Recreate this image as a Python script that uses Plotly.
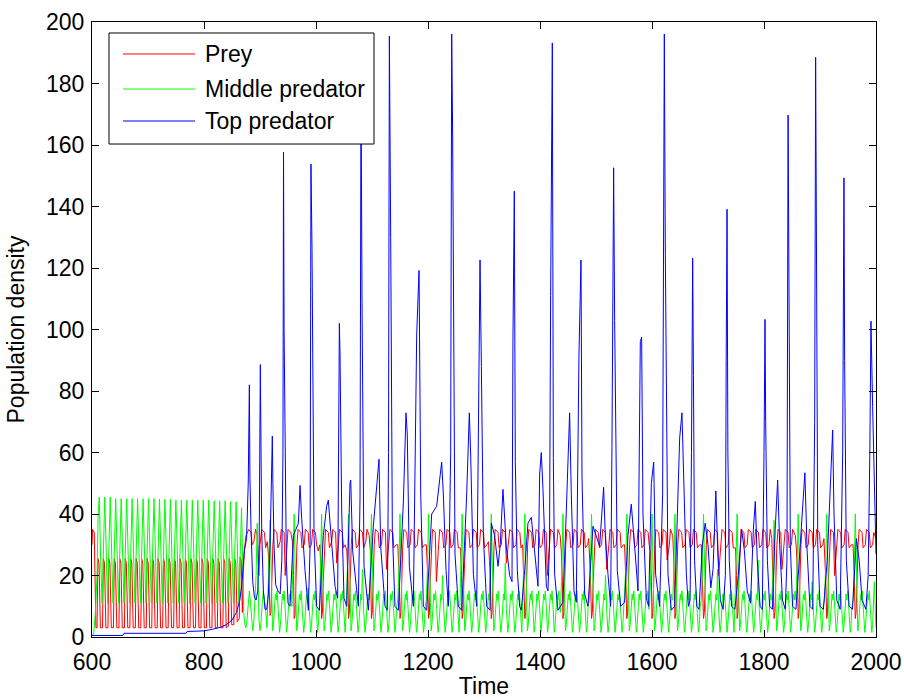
import plotly.graph_objects as go

# ---------------- data: (time, value) vertices ----------------
prey_points = [
    (600, 30), (601, 35), (604, 34), (606, 15), (607, 3),
    (609.0, 3), (610.5, 25.5), (612.5, 24), (615.0, 3),
    (618.8, 3), (620.3, 25.5), (622.3, 24), (624.8, 3),
    (628.5, 3), (630.0, 25.5), (632.0, 24), (634.5, 3),
    (638.3, 3), (639.8, 25.5), (641.8, 24), (644.3, 3),
    (648.1, 3), (649.6, 25.5), (651.6, 24), (654.1, 3),
    (657.9, 3), (659.4, 25.5), (661.4, 24), (663.9, 3),
    (667.6, 3), (669.1, 25.5), (671.1, 24), (673.6, 3),
    (677.4, 3), (678.9, 25.5), (680.9, 24), (683.4, 3),
    (687.2, 3), (688.7, 25.5), (690.7, 24), (693.2, 3),
    (696.9, 3), (698.4, 25.5), (700.4, 24), (702.9, 3),
    (706.7, 3), (708.2, 25.5), (710.2, 24), (712.7, 3),
    (716.5, 3), (718.0, 25.5), (720.0, 24), (722.5, 3),
    (726.2, 3), (727.7, 25.5), (729.7, 24), (732.2, 3),
    (736.0, 3), (737.5, 25.5), (739.5, 24), (742.0, 3),
    (745.8, 3), (747.3, 25.5), (749.3, 24), (751.8, 3),
    (755.6, 3), (757.1, 25.5), (759.1, 24), (761.6, 3),
    (765.3, 3), (766.8, 25.5), (768.8, 24), (771.3, 3),
    (775.1, 3), (776.6, 25.5), (778.6, 24), (781.1, 3),
    (784.9, 3), (786.4, 25.5), (788.4, 24), (790.9, 3),
    (794.6, 3), (796.1, 25.5), (798.1, 24), (800.6, 3),
    (804.4, 3), (805.9, 25.5), (807.9, 24), (810.4, 3),
    (814.2, 3), (815.7, 25.5), (817.7, 24), (820.2, 3),
    (823.9, 3), (825.4, 25.5), (827.4, 24), (829.9, 3),
    (833.7, 3), (835.2, 25.5), (837.2, 24), (839.7, 3),
    (843.5, 3.5), (845.0, 25.5), (847.0, 24), (849.5, 4),
    (853.3, 4), (854.8, 25.5), (856.8, 24), (859.3, 5),
    (863.0, 6), (864.5, 26), (866.5, 25), (868.5, 8),
    (870, 20), (872, 28), (875, 33), (880, 35), (884, 34), (886, 30), (889, 31), (892, 35),
    (895, 33), (897, 22), (898, 20), (900, 30), (903, 35), (908, 34), (910, 29), (913, 31),
    (915, 27), (917, 12), (918, 7), (919.5, 8), (921, 18), (923, 30), (925, 35), (930, 34),
    (932, 29), (936, 31), (938, 35), (943, 34), (945, 20), (948, 29), (950, 35), (955, 34),
    (958, 31), (960, 20), (961, 6), (962.5, 7), (964, 18), (966, 30), (968, 35), (973, 34),
    (975, 29), (979, 30), (981, 35), (986, 34), (988, 29), (992, 30), (994, 35), (999, 34),
    (1001, 30), (1004, 28), (1007, 30), (1009, 20), (1010, 6), (1011.5, 8), (1013, 18),
    (1015, 30), (1017, 35), (1022, 34), (1024, 29), (1028, 31), (1030, 35), (1035, 34),
    (1037, 24), (1040, 30), (1042, 35), (1047, 34), (1049, 29), (1052, 30), (1055, 28),
    (1057, 20), (1058, 6), (1059.5, 8), (1061, 18), (1063, 30), (1065, 35), (1070, 34),
    (1072, 29), (1076, 30), (1078, 35), (1083, 34), (1085, 29), (1089, 31), (1091, 35),
    (1095, 33), (1097, 28), (1098, 18), (1099, 6), (1100.5, 8), (1102, 18), (1104, 30),
    (1106, 35), (1111, 34), (1113, 29), (1117, 30), (1119, 35), (1124, 34), (1126, 22),
    (1130, 31), (1132, 35), (1137, 34), (1139, 29), (1143, 30), (1146, 30), (1148, 22),
    (1150, 6), (1151.5, 8), (1153, 18), (1155, 30), (1157, 35), (1162, 34), (1164, 29),
    (1168, 30), (1170, 35), (1175, 34), (1177, 29), (1181, 30), (1183, 35), (1188, 34),
    (1190, 29), (1194, 30), (1197, 30), (1199, 22), (1201, 6), (1202.5, 8), (1204, 18),
    (1206, 30), (1208, 35), (1213, 34), (1215, 18), (1219, 30), (1221, 35), (1226, 34),
    (1228, 29), (1232, 30), (1234, 35), (1239, 34), (1241, 29), (1245, 30), (1247, 35),
    (1252, 34), (1254, 29), (1258, 29), (1260, 20), (1261, 6), (1262.5, 8), (1264, 18),
    (1266, 30), (1268, 35), (1273, 34), (1275, 29), (1279, 30), (1281, 35), (1286, 34),
    (1288, 29), (1292, 30), (1294, 35), (1299, 34), (1301, 29), (1305, 30), (1308, 31),
    (1311, 20), (1313, 6), (1314.5, 8), (1316, 18), (1318, 30), (1320, 35), (1325, 34),
    (1327, 29), (1331, 30), (1333, 35), (1338, 34), (1340, 24), (1344, 30), (1346, 35),
    (1351, 34), (1353, 29), (1357, 30), (1359, 35), (1364, 34), (1366, 29), (1369, 30),
    (1371, 20), (1373, 6), (1374.5, 8), (1376, 18), (1378, 30), (1380, 35), (1385, 34),
    (1387, 29), (1391, 30), (1393, 35), (1398, 34), (1400, 29), (1404, 30), (1406, 35),
    (1411, 34), (1413, 20), (1417, 30), (1419, 35), (1424, 34), (1426, 29), (1430, 30),
    (1432, 35), (1436, 33), (1438, 28), (1440, 18), (1441, 6), (1442.5, 8), (1444, 18),
    (1446, 30), (1448, 35), (1453, 34), (1455, 29), (1459, 30), (1461, 35), (1466, 34),
    (1468, 29), (1472, 30), (1474, 35), (1479, 34), (1481, 29), (1485, 30), (1487, 32),
    (1490, 20), (1492, 6), (1493.5, 8), (1495, 18), (1497, 30), (1499, 35), (1504, 34),
    (1506, 29), (1510, 30), (1512, 35), (1517, 34), (1519, 22), (1523, 30), (1525, 35),
    (1530, 34), (1532, 29), (1536, 30), (1538, 35), (1543, 34), (1545, 29), (1549, 30),
    (1551, 30), (1553, 20), (1555, 6), (1556.5, 8), (1558, 18), (1560, 30), (1562, 35),
    (1567, 34), (1569, 29), (1573, 30), (1575, 35), (1580, 34), (1582, 29), (1586, 30),
    (1588, 35), (1593, 34), (1595, 30), (1597, 28), (1599, 18), (1600, 6), (1601.5, 8),
    (1603, 18), (1605, 30), (1607, 35), (1612, 34), (1614, 29), (1618, 30), (1620, 35),
    (1625, 34), (1627, 25), (1631, 30), (1633, 35), (1637, 33), (1639, 25), (1641, 6),
    (1642.5, 8), (1644, 18), (1646, 30), (1648, 35), (1653, 34), (1655, 29), (1659, 30),
    (1661, 35), (1666, 34), (1668, 29), (1672, 30), (1674, 35), (1679, 34), (1681, 29),
    (1685, 30), (1688, 30), (1690, 20), (1692, 6), (1693.5, 8), (1695, 18), (1697, 30),
    (1699, 35), (1704, 34), (1706, 29), (1710, 30), (1712, 35), (1717, 34), (1719, 20),
    (1723, 30), (1725, 35), (1730, 34), (1732, 29), (1736, 30), (1738, 35), (1743, 34),
    (1745, 29), (1749, 29), (1751, 20), (1752, 6), (1753.5, 8), (1755, 18), (1757, 30),
    (1759, 35), (1764, 34), (1766, 29), (1770, 30), (1772, 35), (1777, 34), (1779, 29),
    (1783, 30), (1785, 35), (1790, 34), (1792, 29), (1796, 30), (1798, 35), (1803, 34),
    (1805, 29), (1809, 30), (1811, 35), (1814, 32), (1816, 20), (1818, 6), (1819.5, 8),
    (1821, 18), (1823, 30), (1825, 35), (1830, 34), (1832, 22), (1836, 30), (1838, 35),
    (1843, 34), (1845, 29), (1849, 30), (1851, 35), (1856, 33), (1858, 28), (1860, 18),
    (1861, 6), (1862.5, 8), (1864, 18), (1866, 30), (1868, 35), (1873, 34), (1875, 29),
    (1879, 30), (1881, 35), (1886, 34), (1888, 29), (1892, 30), (1894, 35), (1899, 34),
    (1901, 29), (1905, 30), (1907, 32), (1910, 20), (1912, 6), (1913.5, 8), (1915, 18),
    (1917, 30), (1919, 35), (1924, 34), (1926, 20), (1930, 30), (1932, 35), (1937, 34),
    (1939, 29), (1943, 30), (1945, 35), (1950, 34), (1952, 29), (1956, 30), (1959, 30),
    (1961, 20), (1963, 6), (1964.5, 8), (1966, 18), (1968, 30), (1970, 35), (1975, 34),
    (1977, 29), (1981, 30), (1983, 35), (1988, 34), (1990, 29), (1994, 30), (1996, 34),
    (2000, 32),
]

middle_points = [
    (600, 0.5), (603, 1), (606, 8), (609, 20), (611, 40),
    (613.0, 45.5), (615.5, 25), (618.0, 11),
    (622.8, 45.5), (625.3, 25), (627.8, 11),
    (632.5, 45.5), (635.0, 25), (637.5, 11),
    (642.3, 45), (644.8, 25), (647.3, 11),
    (652.1, 45), (654.6, 25), (657.1, 11),
    (661.9, 45), (664.4, 25), (666.9, 11),
    (671.6, 45), (674.1, 25), (676.6, 11),
    (681.4, 45), (683.9, 25), (686.4, 11),
    (691.2, 45), (693.7, 25), (696.2, 11),
    (700.9, 45), (703.4, 25), (705.9, 11),
    (710.7, 45), (713.2, 25), (715.7, 11),
    (720.5, 44.8), (723.0, 25), (725.5, 11),
    (730.2, 44.8), (732.7, 25), (735.2, 11),
    (740.0, 44.8), (742.5, 25), (745.0, 11),
    (749.8, 44.5), (752.3, 25), (754.8, 11),
    (759.6, 44.5), (762.1, 25), (764.6, 11),
    (769.3, 44.5), (771.8, 25), (774.3, 11),
    (779.1, 44.5), (781.6, 25), (784.1, 11),
    (788.9, 44.5), (791.4, 25), (793.9, 11),
    (798.6, 44.5), (801.1, 25), (803.6, 11),
    (808.4, 44.5), (810.9, 25), (813.4, 11),
    (818.2, 44.3), (820.7, 25), (823.2, 11),
    (827.9, 44.3), (830.4, 25), (832.9, 11),
    (837.7, 44.3), (840.2, 25), (842.7, 11),
    (847.5, 44), (850.0, 25), (852.5, 11),
    (857.3, 44), (859.8, 25), (862.3, 11),
    (867.0, 42), (869.0, 20), (871.0, 8),
    (873, 4), (875, 3), (877, 6), (879, 12), (881, 15), (883, 11), (885, 5), (887, 2),
    (889, 5), (891, 12), (893, 20), (895, 37), (896.5, 22), (898, 6), (900, 2), (902, 5),
    (904, 11), (906, 15), (908, 12), (910, 9), (912.5, 3), (914, 10), (916, 25), (918, 38),
    (919.5, 24), (921, 8), (922.5, 2),
    (924, 4), (925.5, 10), (927.5, 14), (929, 12), (930.5, 15), (932.5, 9), (934, 4), (935, 1.5),
    (936.5, 4), (938, 10), (940, 14), (941.5, 12), (943, 15), (945, 9), (946.5, 4), (947.5, 1.5),
    (949, 4), (950.5, 10), (952.5, 14), (954, 12), (955.5, 15), (957, 10), (959, 22), (961, 40),
    (962.5, 25), (964, 8), (965.5, 2),
    (967, 4), (968.5, 10), (970.5, 14), (972, 12), (973.5, 15), (975.5, 9), (977, 4), (978, 1.5),
    (979.5, 4), (981, 10), (983, 14), (984.5, 12), (986, 16), (988, 9), (989.5, 4), (990.5, 1.5),
    (992, 4), (993.5, 10), (995.5, 14), (997, 12), (998.5, 15), (1000.5, 9), (1002, 4), (1003, 1.5),
    (1004.5, 5), (1006, 10), (1008, 22), (1010, 40),
    (1011.5, 25), (1013, 8), (1014.5, 2),
    (1016, 4), (1017.5, 10), (1019.5, 14), (1021, 12), (1022.5, 15), (1024.5, 9), (1026, 4), (1027, 1.5),
    (1028.5, 4), (1030, 10), (1032, 14), (1033.5, 12), (1035, 15), (1037, 9), (1038.5, 4), (1039.5, 1.5),
    (1041, 4), (1042.5, 10), (1044.5, 14), (1046, 12), (1047.5, 15), (1049.5, 9), (1051, 4), (1052, 1.5),
    (1053, 5), (1054, 10), (1056, 22), (1058, 40),
    (1059.5, 25), (1061, 8), (1062.5, 2),
    (1064, 4), (1065.5, 10), (1067.5, 14), (1069, 12), (1070.5, 15), (1072.5, 9), (1074, 4), (1075, 1.5),
    (1076.5, 4), (1078, 10), (1080, 14), (1081.5, 12), (1083, 22), (1085, 9), (1086.5, 4), (1087.5, 1.5),
    (1089, 4), (1090.5, 10), (1092.5, 14), (1094, 12), (1095, 12), (1097, 22), (1099, 40),
    (1100.5, 25), (1102, 8), (1103.5, 2),
    (1105, 4), (1106.5, 10), (1108.5, 14), (1110, 12), (1111.5, 15), (1113.5, 9), (1115, 4), (1116, 1.5),
    (1117.5, 4), (1119, 10), (1121, 14), (1122.5, 12), (1124, 15), (1126, 9), (1127.5, 4), (1128.5, 1.5),
    (1130, 4), (1131.5, 10), (1133.5, 14), (1135, 12), (1136.5, 15), (1138.5, 9), (1140, 4), (1141, 1.5),
    (1142.5, 4), (1144, 10), (1146, 12), (1148, 22), (1150, 40),
    (1151.5, 25), (1153, 8), (1154.5, 2),
    (1156, 4), (1157.5, 10), (1159.5, 14), (1161, 12), (1162.5, 15), (1164.5, 9), (1166, 4), (1167, 1.5),
    (1168.5, 4), (1170, 10), (1172, 14), (1173.5, 12), (1175, 15), (1177, 9), (1178.5, 4), (1179.5, 1.5),
    (1181, 4), (1182.5, 10), (1184.5, 14), (1186, 12), (1187.5, 15), (1189.5, 9), (1191, 4), (1192, 1.5),
    (1193.5, 4), (1195, 10), (1197, 12), (1199, 22), (1201, 40),
    (1202.5, 25), (1204, 8), (1205.5, 2),
    (1207, 4), (1208.5, 10), (1210.5, 14), (1212, 12), (1213.5, 15), (1215.5, 9), (1217, 4), (1218, 1.5),
    (1219.5, 4), (1221, 10), (1223, 14), (1224.5, 12), (1226, 20), (1228, 9), (1229.5, 4), (1230.5, 1.5),
    (1232, 4), (1233.5, 10), (1235.5, 14), (1237, 12), (1238.5, 15), (1240.5, 9), (1242, 4), (1243, 1.5),
    (1244.5, 4), (1246, 10), (1248, 14), (1249.5, 12), (1251, 15), (1253, 9), (1254.5, 4), (1255.5, 1.5),
    (1257, 10), (1259, 22), (1261, 40),
    (1262.5, 25), (1264, 8), (1265.5, 2),
    (1267, 4), (1268.5, 10), (1270.5, 14), (1272, 12), (1273.5, 15), (1275.5, 9), (1277, 4), (1278, 1.5),
    (1279.5, 4), (1281, 10), (1283, 14), (1284.5, 12), (1286, 15), (1288, 9), (1289.5, 4), (1290.5, 1.5),
    (1292, 4), (1293.5, 10), (1295.5, 14), (1297, 12), (1298.5, 15), (1300.5, 9), (1302, 4), (1303, 1.5),
    (1304.5, 4), (1306, 10), (1308, 14), (1309, 12), (1311, 22), (1313, 40),
    (1314.5, 25), (1316, 8), (1317.5, 2),
    (1319, 4), (1320.5, 10), (1322.5, 14), (1324, 12), (1325.5, 15), (1327.5, 9), (1329, 4), (1330, 1.5),
    (1331.5, 4), (1333, 10), (1335, 14), (1336.5, 12), (1338, 24), (1340, 9), (1341.5, 4), (1342.5, 1.5),
    (1344, 4), (1345.5, 10), (1347.5, 14), (1349, 12), (1350.5, 15), (1352.5, 9), (1354, 4), (1355, 1.5),
    (1356.5, 4), (1358, 10), (1360, 14), (1361.5, 12), (1363, 15), (1365, 9), (1366.5, 4), (1367.5, 1.5),
    (1369, 10), (1371, 22), (1373, 40),
    (1374.5, 25), (1376, 8), (1377.5, 2),
    (1379, 4), (1380.5, 10), (1382.5, 14), (1384, 12), (1385.5, 15), (1387.5, 9), (1388.5, 4), (1389.5, 1.5),
    (1391, 4), (1392.5, 10), (1394.5, 14), (1396, 12), (1397.5, 15), (1399.5, 9), (1400.5, 4), (1401.5, 1.5),
    (1403, 4), (1404.5, 10), (1406.5, 14), (1408, 12), (1409.5, 15), (1411.5, 9), (1412.5, 4), (1413.5, 1.5),
    (1415, 4), (1416.5, 10), (1418.5, 14), (1420, 12), (1421.5, 15), (1423.5, 9), (1424.5, 4), (1425.5, 1.5),
    (1427, 4), (1428.5, 10), (1430.5, 14), (1432, 12), (1433.5, 15), (1435.5, 9), (1436.5, 8), (1439, 22),
    (1441, 40),
    (1442.5, 25), (1444, 8), (1445.5, 2),
    (1447, 4), (1448.5, 10), (1450.5, 14), (1452, 12), (1453.5, 15), (1455.5, 9), (1457, 4), (1458, 1.5),
    (1459.5, 4), (1461, 10), (1463, 14), (1464.5, 12), (1466, 15), (1468, 9), (1469.5, 4), (1470.5, 1.5),
    (1472, 4), (1473.5, 10), (1475.5, 14), (1477, 12), (1478.5, 15), (1480.5, 9), (1482, 4), (1483, 1.5),
    (1484.5, 4), (1486, 10), (1488, 12), (1490, 22), (1492, 40),
    (1493.5, 25), (1495, 8), (1496.5, 2),
    (1498, 4), (1499.5, 10), (1501.5, 14), (1503, 12), (1504.5, 15), (1506.5, 9), (1508, 4), (1509, 1.5),
    (1510.5, 4), (1512, 10), (1514, 14), (1515.5, 12), (1517, 20), (1519, 9), (1520.5, 4), (1521.5, 1.5),
    (1523, 4), (1524.5, 10), (1526.5, 14), (1528, 12), (1529.5, 15), (1531.5, 9), (1533, 4), (1534, 1.5),
    (1535.5, 4), (1537, 10), (1539, 14), (1540.5, 12), (1542, 15), (1544, 9), (1545.5, 4), (1546.5, 1.5),
    (1548, 4), (1549.5, 9), (1551, 12), (1553, 22), (1555, 40),
    (1556.5, 25), (1558, 8), (1559.5, 2),
    (1561, 4), (1562.5, 10), (1564.5, 14), (1566, 12), (1567.5, 15), (1569.5, 9), (1571, 4), (1572, 1.5),
    (1573.5, 4), (1575, 10), (1577, 14), (1578.5, 12), (1580, 15), (1582, 9), (1583.5, 4), (1584.5, 1.5),
    (1586, 4), (1587.5, 10), (1589.5, 14), (1591, 12), (1592.5, 15), (1594.5, 9), (1596, 12), (1598, 22),
    (1600, 40),
    (1601.5, 25), (1603, 8), (1604.5, 2),
    (1606, 4), (1607.5, 10), (1609.5, 14), (1611, 12), (1612.5, 15), (1614.5, 9), (1616, 4), (1617, 1.5),
    (1618.5, 4), (1620, 10), (1622, 14), (1623.5, 12), (1625, 15), (1627, 9), (1628.5, 4), (1629.5, 1.5),
    (1631, 4), (1632.5, 10), (1634.5, 14), (1636, 12), (1637, 12), (1639, 22), (1641, 40),
    (1642.5, 25), (1644, 8), (1645.5, 2),
    (1647, 4), (1648.5, 10), (1650.5, 14), (1652, 12), (1653.5, 15), (1655.5, 9), (1657, 4), (1658, 1.5),
    (1659.5, 4), (1661, 10), (1663, 14), (1664.5, 12), (1666, 15), (1668, 9), (1669.5, 4), (1670.5, 1.5),
    (1672, 4), (1673.5, 10), (1675.5, 14), (1677, 12), (1678.5, 15), (1680.5, 9), (1682, 4), (1683, 1.5),
    (1684.5, 4), (1686, 10), (1688, 12), (1690, 22), (1692, 40),
    (1693.5, 25), (1695, 8), (1696.5, 2),
    (1698, 4), (1699.5, 10), (1701.5, 14), (1703, 12), (1704.5, 15), (1706.5, 9), (1708, 4), (1709, 1.5),
    (1710.5, 4), (1712, 10), (1714, 14), (1715.5, 12), (1717, 22), (1719, 9), (1720.5, 4), (1721.5, 1.5),
    (1723, 4), (1724.5, 10), (1726.5, 14), (1728, 12), (1729.5, 15), (1731.5, 9), (1733, 4), (1734, 1.5),
    (1735.5, 4), (1737, 10), (1739, 14), (1740.5, 12), (1742, 15), (1744, 9), (1745.5, 4), (1746.5, 1.5),
    (1748, 10), (1750, 22), (1752, 40),
    (1753.5, 25), (1755, 8), (1756.5, 2),
    (1758, 4), (1759.5, 10), (1761.5, 14), (1763, 12), (1764.5, 15), (1766.5, 9), (1768, 4), (1769, 1.5),
    (1770.5, 4), (1772, 10), (1774, 14), (1775.5, 12), (1777, 15), (1779, 9), (1780.5, 4), (1781.5, 1.5),
    (1783, 4), (1784.5, 10), (1786.5, 14), (1788, 12), (1789.5, 25), (1791.5, 9), (1793, 4), (1794, 1.5),
    (1795.5, 4), (1797, 10), (1799, 14), (1800.5, 12), (1802, 15), (1804, 9), (1805.5, 4), (1806.5, 1.5),
    (1808, 4), (1809.5, 10), (1811.5, 14), (1813, 12), (1814, 12), (1816, 22), (1818, 38),
    (1819.5, 25), (1821, 8), (1822.5, 2),
    (1824, 4), (1825.5, 10), (1827.5, 14), (1829, 12), (1830.5, 15), (1832.5, 9), (1834, 4), (1835, 1.5),
    (1836.5, 4), (1838, 10), (1840, 14), (1841.5, 12), (1843, 15), (1845, 9), (1846.5, 4), (1847.5, 1.5),
    (1849, 4), (1850.5, 10), (1852.5, 14), (1854, 12), (1855.5, 15), (1857, 12), (1859, 22), (1861, 40),
    (1862.5, 25), (1864, 8), (1865.5, 2),
    (1867, 4), (1868.5, 10), (1870.5, 14), (1872, 12), (1873.5, 15), (1875.5, 9), (1877, 4), (1878, 1.5),
    (1879.5, 4), (1881, 10), (1883, 14), (1884.5, 12), (1886, 18), (1888, 9), (1889.5, 4), (1890.5, 1.5),
    (1892, 4), (1893.5, 10), (1895.5, 14), (1897, 12), (1898.5, 15), (1900.5, 9), (1902, 4), (1903, 1.5),
    (1904.5, 4), (1906, 10), (1908, 12), (1910, 22), (1912, 40),
    (1913.5, 25), (1915, 8), (1916.5, 2),
    (1918, 4), (1919.5, 10), (1921.5, 14), (1923, 12), (1924.5, 15), (1926.5, 9), (1928, 4), (1929, 1.5),
    (1930.5, 4), (1932, 10), (1934, 14), (1935.5, 12), (1937, 15), (1939, 9), (1940.5, 4), (1941.5, 1.5),
    (1943, 4), (1944.5, 10), (1946.5, 14), (1948, 12), (1949.5, 15), (1951.5, 9), (1953, 4), (1954, 1.5),
    (1955.5, 4), (1957, 10), (1959, 12), (1961, 22), (1963, 40),
    (1964.5, 25), (1966, 8), (1967.5, 2),
    (1969, 4), (1970.5, 10), (1972.5, 14), (1974, 12), (1975.5, 15), (1977.5, 9), (1979, 4), (1980, 1.5),
    (1981.5, 4), (1983, 10), (1985, 14), (1986.5, 12), (1988, 15), (1990, 9), (1991.5, 4), (1992.5, 1.5),
    (1994, 4), (1995.5, 12), (1997, 18), (1999, 8), (2000, 3),
]

top_points = [
    (600, 0.5), (655, 0.5), (657, 1.2), (768, 1.2), (770, 1.8), (800, 2.0), (815, 2.5),
    (830, 3.2), (840, 4), (850, 5.5), (858, 8), (864, 12), (868, 18), (872, 28), (876, 32),
    (879, 50), (881, 82), (882, 52), (884, 35), (887, 18), (890, 13), (893, 12), (896, 15),
    (898.5, 30), (900.6, 88.6), (901.5, 60), (903, 35), (906, 15), (909, 9), (912, 9),
    (915, 14), (918, 30), (920, 50), (922, 65.3), (923, 50), (925, 30), (928, 17), (932, 15),
    (936, 14), (939, 25), (941, 60), (942, 157.7), (943, 100), (944.5, 72), (947, 25),
    (950, 11), (953.6, 10),
    (959.6, 33), (968.5, 37), (971.5, 49.3), (974.4, 38.6), (980.4, 21.7), (983.4, 14),
    (986.3, 8.7), (989.5, 30), (991, 153.8), (992.9, 126), (996.5, 33), (1001.2, 10),
    (1006, 8.7), (1013.1, 33), (1019, 42.5), (1022, 44.5), (1028, 29.5), (1034, 16.5),
    (1038.7, 12.6), (1040.5, 50), (1041.7, 102), (1042.9, 92), (1045.9, 41), (1050, 12.6),
    (1054.8, 10), (1060.7, 50), (1062, 51), (1065.5, 28), (1069.7, 20), (1075.6, 10),
    (1078.6, 45), (1080.4, 180), (1082.2, 109), (1085.7, 23), (1093.5, 8.7), (1102.4, 36),
    (1112.5, 57.8), (1115.5, 29.5), (1123.2, 10), (1127.4, 8.7), (1129.5, 60), (1131, 195.4),
    (1133.4, 130), (1136.3, 34.7), (1141, 10), (1147, 8.7), (1156, 43.9), (1160.7, 72.9),
    (1163, 66), (1166.7, 23), (1173.8, 10), (1179.8, 98.5), (1184, 119.2), (1187, 46.5),
    (1191.7, 10), (1197.6, 8.7), (1206.6, 40), (1215.5, 42.5), (1224.4, 56.9), (1227.4, 46.5),
    (1232.2, 21.7), (1236.3, 10), (1240.5, 60), (1242.3, 196.1), (1244, 163.6), (1248.2, 27),
    (1254.2, 10), (1260.2, 8.7), (1269.1, 46.5), (1273.8, 72.9), (1276.2, 59.5), (1281, 20.4),
    (1287, 10), (1290.5, 92), (1292.9, 122.6), (1295.3, 88), (1298.8, 33), (1304.8, 10),
    (1310.7, 8.7),
    (1313.1, 37), (1319, 33), (1325, 23), (1329, 30), (1333.9, 48), (1339.8, 29.5),
    (1345.8, 20), (1350, 18), (1351.7, 96), (1354.1, 145), (1355.9, 57), (1359.5, 21.7),
    (1363.6, 10), (1366.6, 8.7), (1372, 20), (1378.5, 37), (1384.5, 38.9), (1390.4, 27),
    (1396.4, 16.5), (1399.4, 53), (1402.3, 60), (1405.3, 48), (1411.3, 16.5), (1414.2, 15),
    (1417, 30), (1419, 111), (1422, 193.2), (1423.8, 58), (1426.1, 20.4), (1432.1, 8.7),
    (1441, 11.3), (1447, 41), (1452.9, 72.9), (1455.9, 46.5), (1460.7, 15), (1464.8, 11.3),
    (1469.6, 92), (1473.2, 122.6), (1475, 52), (1479.7, 14), (1485.7, 10), (1494.6, 36),
    (1500.6, 33), (1506.5, 29.5), (1513.6, 48.7), (1516.6, 33), (1521.4, 20.4), (1526.1, 10),
    (1528.5, 62), (1531.5, 152.6), (1533.3, 103), (1538, 21.7), (1544, 10), (1551.1, 11.3),
    (1557.1, 33), (1563, 43.2), (1569, 29.5), (1575, 15), (1579.1, 96), (1581.5, 97.5),
    (1583.9, 40), (1589.8, 12.6), (1594, 10), (1598.8, 50), (1603, 56.9), (1606.5, 20.4),
    (1613.6, 10), (1619, 46.5), (1622, 196.1), (1623.8, 124.5), (1628.5, 20.4), (1634.5, 8.7),
    (1640.4, 10), (1649.4, 64.7), (1653.5, 72.9), (1656.5, 55.6), (1661.3, 20.4),
    (1665, 10), (1668, 12), (1670.5, 60), (1672.6, 123.2), (1674, 85), (1676, 25), (1680, 10),
    (1684, 9), (1690, 30), (1695, 37), (1700, 30), (1705, 16), (1709, 22), (1712, 42),
    (1714, 47.5), (1717, 30), (1722, 12), (1727, 9), (1731, 20), (1732.5, 90), (1734, 139.1),
    (1735.5, 60), (1738, 25), (1742, 10), (1748, 9), (1754, 20), (1760, 35), (1765, 28),
    (1770, 15), (1776, 11), (1781, 35), (1784.5, 44.1), (1788, 25), (1793, 10), (1797, 9),
    (1800, 60), (1801.8, 103.3), (1803, 70), (1806, 25), (1810, 10), (1815, 9), (1820, 35),
    (1824.4, 51), (1828, 30), (1833, 12), (1838, 9), (1841, 25), (1843, 169.7), (1844.5, 100),
    (1847, 30), (1851, 10), (1857, 9), (1863, 25), (1868, 40), (1873, 53.4), (1877, 28),
    (1882, 10), (1887, 9), (1890.5, 70), (1892.2, 188.5), (1893.5, 110), (1896, 30),
    (1900, 10), (1906, 9), (1913, 25), (1918, 45), (1922.6, 67.3), (1925, 40), (1930, 12),
    (1936, 9), (1940.5, 60), (1942.8, 149.3), (1944, 90), (1947, 25), (1952, 10), (1958, 9),
    (1965, 32), (1970, 25), (1975, 12), (1982, 9), (1986, 20), (1989, 60), (1991, 102.7),
    (1994, 75), (1997, 45), (2000, 27),
]

series_names = ["Prey", "Middle predator", "Top predator"]
series_colors = ["#ff0000", "#00ff00", "#0000ff"]
x_ticks = [600, 800, 1000, 1200, 1400, 1600, 1800, 2000]
y_ticks = [0, 20, 40, 60, 80, 100, 120, 140, 160, 180, 200]

# ---------------- figure ----------------
FONT = "Liberation Sans, Arial, Helvetica, sans-serif"
FS = 23
fig = go.Figure()
for pts, name, color in zip([prey_points, middle_points, top_points], series_names, series_colors):
    t, v = zip(*pts)
    fig.add_trace(go.Scatter(x=list(t), y=list(v), mode="lines", name=name,
                             line=dict(color=color, width=1), showlegend=False))

axis_common = dict(showline=True, linecolor="black", linewidth=1, mirror="ticks",
                   ticks="inside", ticklen=7, tickcolor="black", tickwidth=1,
                   showgrid=False, zeroline=False, automargin=False,
                   tickfont=dict(family=FONT, size=FS, color="black"))
fig.update_xaxes(range=[600, 2000], tickvals=x_ticks, ticktext=[str(v) for v in x_ticks],
                 ticklabelstandoff=4,
                 title=dict(text="Time", font=dict(family=FONT, size=FS, color="black"), standoff=8),
                 **axis_common)
fig.update_yaxes(range=[0, 200], tickvals=y_ticks, ticktext=[str(v) for v in y_ticks],
                 ticklabelstandoff=2,
                 title=dict(text="Population density", font=dict(family=FONT, size=FS, color="black"), standoff=14),
                 **axis_common)

# boxed key in the upper-left corner (paper coordinates)
L, R, TOP, BOT = 0.0217, 0.3597, 0.9821, 0.8016
fig.add_shape(type="rect", xref="paper", yref="paper", x0=L, x1=R, y0=BOT, y1=TOP,
              line=dict(color="black", width=1), fillcolor="white", layer="above")
rows = [0.948, 0.891, 0.839]
for yrow, name, color in zip(rows, series_names, series_colors):
    fig.add_shape(type="line", xref="paper", yref="paper", x0=0.0395, x1=0.1314,
                  y0=yrow, y1=yrow, line=dict(color=color, width=1), layer="above")
    fig.add_annotation(xref="paper", yref="paper", x=0.1416, y=yrow, text=name,
                       showarrow=False, xanchor="left", yanchor="middle",
                       font=dict(family=FONT, size=FS, color="black"))

fig.update_layout(width=904, height=699, paper_bgcolor="white", plot_bgcolor="white",
                  margin=dict(l=92, r=28, t=22, b=62, autoexpand=False),
                  font=dict(family=FONT, size=FS, color="black"))

fig.write_html("out.html")
